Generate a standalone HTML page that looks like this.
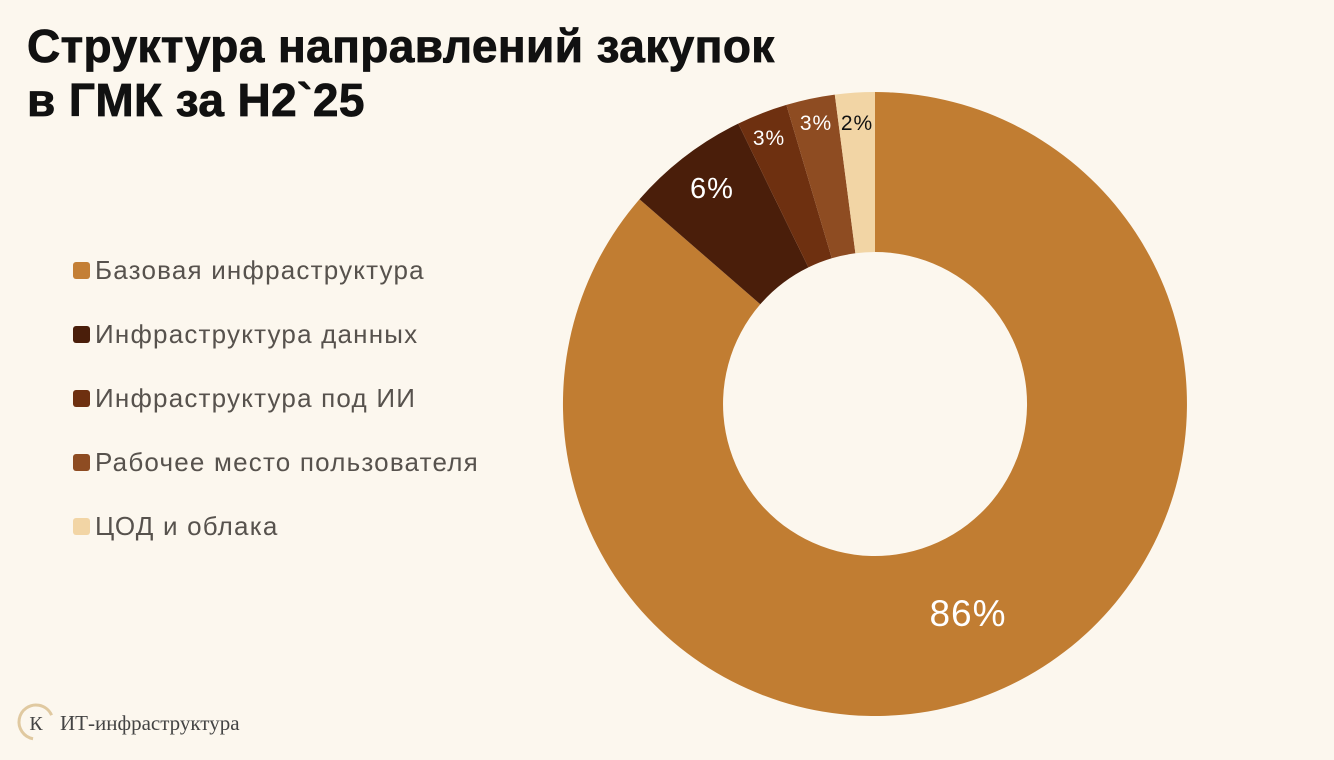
<!DOCTYPE html>
<html><head><meta charset="utf-8"><style>
body{margin:0;width:1334px;height:760px;background:#fcf7ee;overflow:hidden;position:relative;font-family:"Liberation Sans",sans-serif}
.t{position:absolute;left:27px;font-weight:900;font-size:46px;color:#111;letter-spacing:0.4px;line-height:54px;-webkit-text-stroke:0.8px #111}
.lg{position:absolute;left:73px;font-size:26px;color:#57524d;display:flex;align-items:center;letter-spacing:1.2px}
.lg i{width:17px;height:17px;border-radius:3px;margin-right:5px;display:inline-block}
</style></head><body>
<div class="t" style="top:19px">Структура направлений закупок<br>в ГМК за H2`25</div>
<div class="lg" style="top:255px"><i style="background:#c47f35"></i>Базовая инфраструктура</div>
<div class="lg" style="top:319px"><i style="background:#4a1e0a"></i>Инфраструктура данных</div>
<div class="lg" style="top:383px"><i style="background:#6e3010"></i>Инфраструктура под ИИ</div>
<div class="lg" style="top:447px"><i style="background:#8e4c22"></i>Рабочее место пользователя</div>
<div class="lg" style="top:511px"><i style="background:#f2d5a5"></i>ЦОД и облака</div>
<svg width="1334" height="760" style="position:absolute;left:0;top:0">
<path d="M875,92 A312,312 0 1 1 639.5,199.3 L760.3,304.3 A152,152 0 1 0 875,252 Z" fill="#c17d32"/>
<path d="M639.5,199.3 A312,312 0 0 1 738.2,123.6 L808.4,267.4 A152,152 0 0 0 760.3,304.3 Z" fill="#4a1e0a"/>
<path d="M738.2,123.6 A312,312 0 0 1 786.4,104.9 L831.8,258.3 A152,152 0 0 0 808.4,267.4 Z" fill="#6e3010"/>
<path d="M786.4,104.9 A312,312 0 0 1 834.8,94.6 L855.4,253.3 A152,152 0 0 0 831.8,258.3 Z" fill="#8e4c22"/>
<path d="M834.8,94.6 A312,312 0 0 1 875,92 L875,252 A152,152 0 0 0 855.4,253.3 Z" fill="#f2d5a5"/>
<g font-family="Liberation Sans,sans-serif" text-anchor="middle" letter-spacing="1">
<text x="968" y="626" font-size="37" fill="#fff">86%</text>
<text x="712" y="198" font-size="29" fill="#fff">6%</text>
<text x="769" y="145" font-size="21" fill="#fff">3%</text>
<text x="816" y="130" font-size="21" fill="#fff">3%</text>
<text x="857" y="130" font-size="21" fill="#111">2%</text>
</g>
<circle cx="36" cy="722" r="17" fill="none" stroke="#e0c9a0" stroke-width="3" stroke-dasharray="70 40" transform="rotate(100 36 722)"/>
<text x="36" y="730" font-family="Liberation Serif,serif" font-size="20" fill="#444" text-anchor="middle">К</text>
<text x="60" y="730" font-family="Liberation Serif,serif" font-size="21" fill="#444">ИТ-инфраструктура</text>
</svg>
</body></html>
